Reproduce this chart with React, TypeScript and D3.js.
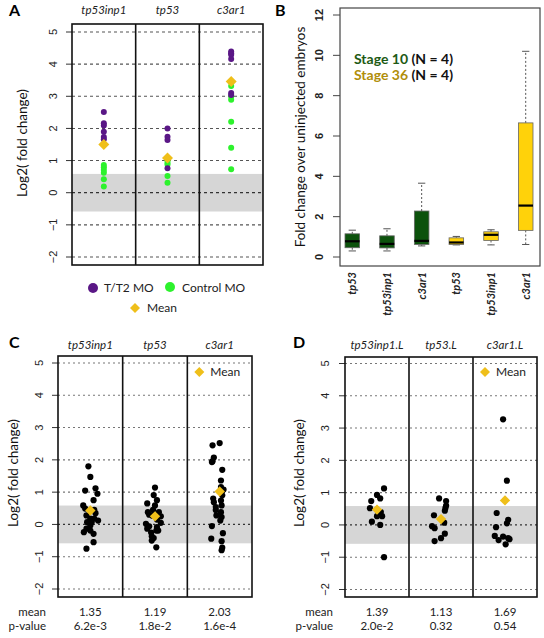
import React from "react";
import * as d3 from "d3";

// ---------- Panel A data ----------
const genesA = ["tp53inp1", "tp53", "c3ar1"];
const purpleA = [
  [2.51, 2.16, 2.09, 1.9, 1.73, 1.66],
  [2.0, 1.74, 1.64, 0.76],
  [4.39, 4.34, 4.29, 4.16, 3.1, 3.04],
];
const greenA = [
  [0.86, 0.79, 0.71, 0.62, 0.42, 0.19],
  [1.0, 0.93, 0.88, 0.52, 0.31],
  [3.32, 2.99, 2.89, 2.21, 1.4, 0.73],
];
const meanA = [1.5, 1.08, 3.46];
const yTicks = [-2, -1, 0, 1, 2, 3, 4, 5];
const noChangeBand = [-0.585, 0.585];

// ---------- Panel B data ----------
const boxCats = ["tp53", "tp53inp1", "c3ar1", "tp53", "tp53inp1", "c3ar1"];
const boxStage = ["10", "10", "10", "36", "36", "36"];
const boxLow = [0.3, 0.3, 0.55, 0.6, 0.6, 0.62];
const boxQ1 = [0.46, 0.45, 0.62, 0.62, 0.82, 1.32];
const boxMed = [0.78, 0.65, 0.8, 0.72, 1.1, 2.55];
const boxQ3 = [1.15, 1.05, 2.28, 0.95, 1.25, 6.65];
const boxHigh = [1.33, 1.4, 3.66, 1.02, 1.35, 10.2];
const bTicks = [0, 2, 4, 6, 8, 10, 12];

// ---------- Panel C data ----------
const genesC = ["tp53inp1", "tp53", "c3ar1"];
const valuesC = [
  [1.8, 1.47, 1.12, 1.05, 0.95, 0.75, 0.59, 0.49, 0.45, 0.35, 0.28, 0.18, 0.18, 0.12, 0.07, 0.07, -0.03, -0.13, -0.19, -0.24, -0.29, -0.55, -0.75],
  [1.14, 0.91, 0.75, 0.65, 0.59, 0.45, 0.38, 0.38, 0.3, 0.27, 0.25, 0.15, 0.05, 0.02, -0.06, -0.08, -0.13, -0.19, -0.19, -0.25, -0.37, -0.42, -0.5, -0.71],
  [2.45, 2.52, 2.07, 1.96, 1.93, 1.69, 1.36, 1.16, 1.08, 1.05, 0.9, 0.8, 0.74, 0.69, 0.59, 0.54, 0.45, 0.38, 0.28, 0.23, 0.12, -0.05, -0.27, -0.44, -0.52, -0.72, -0.8],
];
const jitterC = [
  [-0.03, 0.0, 0.08, -0.08, 0.11, 0.05, -0.11, -0.08, 0.06, 0.08, -0.06, 0.0, 0.06, 0.12, -0.05, 0.02, 0.0, -0.06, 0.0, -0.1, 0.05, 0.05, -0.06],
  [0.0, -0.02, 0.03, -0.12, 0.0, -0.03, -0.11, 0.06, -0.09, -0.04, 0.09, 0.03, 0.09, -0.14, -0.09, 0.03, -0.12, 0.02, 0.05, -0.06, -0.05, -0.02, -0.05, 0.02],
  [-0.11, 0.0, -0.09, -0.11, -0.12, 0.04, 0.02, 0.02, 0.06, 0.04, 0.04, -0.1, 0.02, -0.09, 0.03, -0.06, -0.06, 0.02, -0.05, 0.03, 0.01, -0.12, 0.05, -0.13, 0.03, 0.04, 0.03],
];
const meanLogC = [0.43, 0.25, 1.02];
const meanTextC = ["1.35", "1.19", "2.03"];
const pTextC = ["6.2e-3", "1.8e-2", "1.6e-4"];

// ---------- Panel D data ----------
const genesD = ["tp53inp1.L", "tp53.L", "c3ar1.L"];
const valuesD = [
  [1.13, 0.93, 0.82, 0.74, 0.52, 0.4, 0.27, 0.27, 0.1, 0.0, -1.0],
  [0.82, 0.74, 0.6, 0.53, 0.44, 0.3, 0.07, -0.04, -0.1, -0.27, -0.41, -0.5],
  [3.27, 1.37, 0.37, 0.16, 0.05, -0.07, -0.34, -0.36, -0.41, -0.44, -0.47, -0.6],
];
const jitterD = [
  [0.11, 0.0, 0.05, -0.09, -0.11, 0.06, 0.0, 0.08, -0.08, 0.05, 0.11],
  [-0.03, 0.08, 0.08, 0.07, 0.06, -0.11, 0.05, -0.14, -0.1, 0.06, 0.0, -0.1],
  [-0.03, 0.03, -0.13, 0.05, 0.03, -0.14, -0.16, -0.03, 0.05, 0.07, -0.1, 0.01],
];
const meanLogD = [0.475, 0.18, 0.76];
const meanTextD = ["1.39", "1.13", "1.69"];
const pTextD = ["2.0e-2", "0.32", "0.54"];

// ---------- styles ----------
const LABEL_FONT = "Lato, 'Open Sans', sans-serif";
const TICK_FONT = "'Liberation Sans', Arial, sans-serif";
const PURPLE = "#5a1786";
const GREEN = "#2df22d";
const GOLD = "#efbf1a";
const DARKGREEN = "#0c520c";
const YELLOW = "#ffd20a";

function diamond(cx: number, cy: number, r: number) {
  return `M${cx},${cy - r}L${cx + r},${cy}L${cx},${cy + r}L${cx - r},${cy}Z`;
}

type FrameProps = {
  left: number; right: number; top: number; bottom: number;
  yRange: [number, number]; genes: string[]; titleY: number;
  tickLabelX: number; yLabelX: number; yLabelY: number;
  dash: string; gridColor: string; children: (x: d3.ScaleBand<string>, y: d3.ScaleLinear<number, number>) => React.ReactNode;
};

function DotFrame(p: FrameProps) {
  const x = d3.scaleBand<string>().domain(p.genes).range([p.left, p.right]);
  const y = d3.scaleLinear().domain([-2, 5]).range(p.yRange);
  return (
    <g>
      <rect x={p.left} y={y(noChangeBand[1])} width={p.right - p.left} height={y(noChangeBand[0]) - y(noChangeBand[1])} fill="#d6d6d6" />
      {yTicks.map((t) => (
        <g key={t}>
          <line x1={p.left} x2={p.right} y1={y(t)} y2={y(t)} stroke={t === 0 ? "#333" : p.gridColor} strokeWidth={t === 0 ? 1.2 : 1.1} strokeDasharray={p.dash} />
          <line x1={p.left - 6} x2={p.left} y1={y(t)} y2={y(t)} stroke="#333" strokeWidth={1} />
          <text transform={`translate(${p.tickLabelX},${y(t)}) rotate(-90)`} textAnchor="middle" dy="0.35em" fontFamily={TICK_FONT} fontSize={11} fill="#222">
            {t < 0 ? `\u2212${-t}` : t}
          </text>
        </g>
      ))}
      {p.genes.map((g) => (
        <text key={g} x={(x(g) as number) + x.bandwidth() / 2} y={p.titleY} textAnchor="middle" fontFamily={LABEL_FONT} fontStyle="italic" fontSize={11.5} fill="#222">
          {g}
        </text>
      ))}
      <text transform={`translate(${p.yLabelX},${p.yLabelY}) rotate(-90)`} textAnchor="middle" dy="0.35em" fontFamily={LABEL_FONT} fontSize={13.5} fill="#111">
        Log2( fold change)
      </text>
      {p.children(x, y)}
      {p.genes.slice(1).map((g) => (
        <line key={g} x1={x(g)} x2={x(g)} y1={p.top} y2={p.bottom} stroke="#111" strokeWidth={1.6} />
      ))}
      <rect x={p.left} y={p.top} width={p.right - p.left} height={p.bottom - p.top} fill="none" stroke="#111" strokeWidth={1.6} />
    </g>
  );
}

function PanelA() {
  return (
    <g>
      <text x={9} y={16} fontFamily={LABEL_FONT} fontWeight="bold" fontSize={16}>A</text>
      <DotFrame left={72} right={263} top={24} bottom={265} yRange={[257, 32]} genes={genesA} titleY={14}
        tickLabelX={53} yLabelX={22} yLabelY={143} dash="3,3" gridColor="#555">
        {(x, y) => genesA.map((g, i) => {
          const cx = (x(g) as number) + x.bandwidth() / 2;
          return (
            <g key={g}>
              {greenA[i].map((v, j) => <circle key={"g" + j} cx={cx} cy={y(v)} r={3} fill={GREEN} />)}
              {purpleA[i].map((v, j) => <circle key={"p" + j} cx={cx} cy={y(v)} r={3} fill={PURPLE} />)}
              <path d={diamond(cx, y(meanA[i]), 5.5)} fill={GOLD} />
            </g>
          );
        })}
      </DotFrame>
      <circle cx={93} cy={288} r={5} fill={PURPLE} />
      <text x={104} y={292} fontFamily={LABEL_FONT} fontSize={12} fill="#222">T/T2 MO</text>
      <circle cx={170} cy={287} r={5} fill={GREEN} />
      <text x={182} y={292} fontFamily={LABEL_FONT} fontSize={12} fill="#222">Control MO</text>
      <path d={diamond(135, 308, 5)} fill={GOLD} />
      <text x={147} y={312} fontFamily={LABEL_FONT} fontSize={12} fill="#222">Mean</text>
    </g>
  );
}

function PanelB() {
  const left = 340, right = 540, top = 8, bottom = 266;
  const x = d3.scaleBand<number>().domain(d3.range(boxCats.length)).range([345, 533]).paddingInner(0.58);
  const y = d3.scaleLinear().domain([0, 12]).range([257, 15]);
  const bw = x.bandwidth();
  return (
    <g>
      <text x={275} y={16} fontFamily={LABEL_FONT} fontWeight="bold" fontSize={16}>B</text>
      <rect x={left} y={top} width={right - left} height={bottom - top} fill="none" stroke="#444" strokeWidth={1.2} />
      {bTicks.map((t) => (
        <g key={t}>
          <line x1={left - 7} x2={left} y1={y(t)} y2={y(t)} stroke="#444" />
          <text transform={`translate(${319},${y(t)}) rotate(-90)`} textAnchor="middle" dy="0.35em" fontFamily={TICK_FONT} fontWeight="bold" fontSize={11} fill="#222">{t}</text>
        </g>
      ))}
      <text transform={`translate(300,137) rotate(-90)`} textAnchor="middle" dy="0.35em" fontFamily={LABEL_FONT} fontSize={13.5} fill="#111">
        Fold change over uninjected embryos
      </text>
      {boxCats.map((c, i) => {
        const x0 = x(i) as number;
        const cx = x0 + bw / 2;
        const fill = boxStage[i] === "10" ? DARKGREEN : YELLOW;
        return (
          <g key={i}>
            <line x1={cx} x2={cx} y1={y(boxQ3[i])} y2={y(boxHigh[i])} stroke="#555" strokeDasharray="2,2" />
            <line x1={cx} x2={cx} y1={y(boxQ1[i])} y2={y(boxLow[i])} stroke="#555" strokeDasharray="2,2" />
            <line x1={cx - bw / 4} x2={cx + bw / 4} y1={y(boxHigh[i])} y2={y(boxHigh[i])} stroke="#555" />
            <line x1={cx - bw / 4} x2={cx + bw / 4} y1={y(boxLow[i])} y2={y(boxLow[i])} stroke="#555" />
            <rect x={x0} y={y(boxQ3[i])} width={bw} height={y(boxQ1[i]) - y(boxQ3[i])} fill={fill} stroke="#666" strokeWidth={0.8} />
            <line x1={x0} x2={x0 + bw} y1={y(boxMed[i])} y2={y(boxMed[i])} stroke="#000" strokeWidth={2.2} />
            <text transform={`translate(${cx},272) rotate(-90)`} textAnchor="end" dy="0.35em" fontFamily={LABEL_FONT} fontStyle="italic" fontWeight="bold" fontSize={11} fill="#222">{c}</text>
          </g>
        );
      })}
      <text x={354} y={64} fontFamily={LABEL_FONT} fontWeight="bold" fontSize={14}>
        <tspan fill="#1d5a14">Stage 10</tspan><tspan fill="#111"> (N = 4)</tspan>
      </text>
      <text x={354} y={80} fontFamily={LABEL_FONT} fontWeight="bold" fontSize={14}>
        <tspan fill="#b08e0a">Stage 36</tspan><tspan fill="#111"> (N = 4)</tspan>
      </text>
    </g>
  );
}

type ScatterProps = {
  letter: string; letterX: number; left: number; right: number; top: number; bottom: number; yRange: [number, number];
  genes: string[]; values: number[][]; jitter: number[][]; means: number[]; meanText: string[]; pText: string[];
  tickLabelX: number; yLabelX: number; statsRight: number;
};

function ScatterPanel(p: ScatterProps) {
  return (
    <g>
      <text x={p.letterX} y={348} fontFamily={LABEL_FONT} fontWeight="bold" fontSize={16}>{p.letter}</text>
      <DotFrame left={p.left} right={p.right} top={p.top} bottom={p.bottom} yRange={p.yRange} genes={p.genes} titleY={349}
        tickLabelX={p.tickLabelX} yLabelX={p.yLabelX} yLabelY={473} dash="2,3" gridColor="#777">
        {(x, y) => (
          <g>
            {p.genes.map((g, i) => {
              const x0 = x(g) as number;
              const bw = x.bandwidth();
              const cx = x0 + bw / 2;
              return (
                <g key={g}>
                  {p.values[i].map((v, j) => (
                    <circle key={j} cx={cx + p.jitter[i][j] * bw} cy={y(v)} r={3.1} fill="#000" />
                  ))}
                  <path d={diamond(cx, y(p.means[i]), 5.2)} fill={GOLD} />
                  <text x={cx} y={616} textAnchor="middle" fontFamily={LABEL_FONT} fontSize={11.5} fill="#222">{p.meanText[i]}</text>
                  <text x={cx} y={630} textAnchor="middle" fontFamily={LABEL_FONT} fontSize={11.5} fill="#222">{p.pText[i]}</text>
                </g>
              );
            })}
            <path d={diamond((x(p.genes[2]) as number) + 12, 372, 5)} fill={GOLD} />
            <text x={(x(p.genes[2]) as number) + 23} y={376} fontFamily={LABEL_FONT} fontSize={12} fill="#222">Mean</text>
          </g>
        )}
      </DotFrame>
      <text x={p.statsRight} y={616} textAnchor="end" fontFamily={LABEL_FONT} fontSize={11.5} fill="#222">mean</text>
      <text x={p.statsRight} y={630} textAnchor="end" fontFamily={LABEL_FONT} fontSize={11.5} fill="#222">p-value</text>
    </g>
  );
}

export default function App() {
  return (
    <svg width={544} height={638} viewBox="0 0 544 638" style={{ position: "absolute", left: 0, top: 0, background: "#fff" }}>
      <rect width={544} height={638} fill="#fff" />
      <PanelA />
      <PanelB />
      <ScatterPanel letter="C" letterX={9} left={58} right={252} top={356} bottom={597} yRange={[589, 363]}
        genes={genesC} values={valuesC} jitter={jitterC} means={meanLogC} meanText={meanTextC} pText={pTextC}
        tickLabelX={39} yLabelX={13} statsRight={46} />
      <ScatterPanel letter="D" letterX={293} left={345} right={537} top={357} bottom={597} yRange={[589.5, 363.5]}
        genes={genesD} values={valuesD} jitter={jitterD} means={meanLogD} meanText={meanTextD} pText={pTextD}
        tickLabelX={325} yLabelX={299} statsRight={333} />
    </svg>
  );
}
